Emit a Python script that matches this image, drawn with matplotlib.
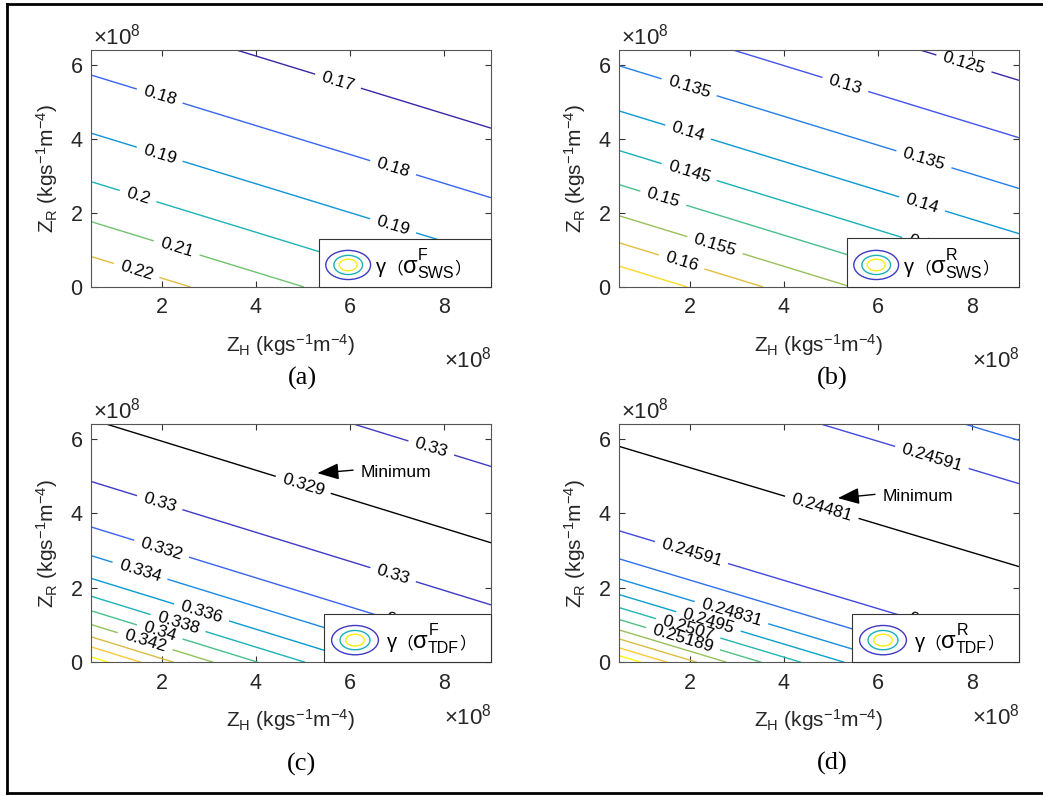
import numpy as np
import matplotlib
matplotlib.use('Agg')
import matplotlib.pyplot as plt
from matplotlib.colors import LinearSegmentedColormap, Normalize
from matplotlib.patches import Rectangle, Ellipse
from matplotlib.lines import Line2D

plt.rcParams['font.family'] = ['Liberation Sans', 'Noto Sans CJK SC', 'DejaVu Sans']
plt.rcParams['mathtext.fontset'] = 'custom'
plt.rcParams['mathtext.rm'] = 'Liberation Sans'
plt.rcParams['mathtext.it'] = 'Liberation Sans:italic'
plt.rcParams['mathtext.bf'] = 'Liberation Sans:bold'
plt.rcParams['axes.unicode_minus'] = False

# ---------------- data ----------------
zh_lim = [0.5, 9.0]      # Z_H axis, x1e8
zr_lim = [0.0, 6.4]      # Z_R axis, x1e8
zh_ticks = [2, 4, 6, 8]
zr_ticks = [0, 2, 4, 6]

# every contour is a straight line  Z_R + slope*Z_H = offset
# (a) gamma(sigma^F_SWS)
a_levels = [0.17, 0.18, 0.19, 0.20, 0.21, 0.22]
a_texts = ['0.17', '0.18', '0.19', '0.2', '0.21', '0.22']
a_offsets = [7.80, 5.92, 4.35, 3.04, 1.96, 1.02]
a_slope = 0.39
a_label_at = [(0, 5.75), (1, 1.96), (1, 6.92), (2, 1.96), (2, 6.92),
              (3, 1.50), (4, 2.32), (5, 1.47)]

# (b) gamma(sigma^R_SWS)
b_levels = [0.125, 0.13, 0.135, 0.14, 0.145, 0.15, 0.155, 0.16, 0.165]
b_texts = ['0.125', '0.13', '0.135', '0.14', '0.145', '0.15', '0.155', '0.16', '0.165']
b_offsets = [9.09, 7.54, 6.17, 4.95, 3.88, 2.96, 2.12, 1.39, 0.76]
b_slope = 0.39
b_label_at = [(0, 7.83), (1, 5.31), (2, 1.99), (2, 6.98), (3, 1.97), (3, 6.94),
              (4, 1.99), (4, 7.10), (5, 1.44), (6, 2.54), (7, 1.83)]

# (c) gamma(sigma^F_TDF)
c_levels = [0.33, 0.33, 0.332, 0.334, 0.336, 0.338, 0.340, 0.342, 0.344, 0.346, 0.348]
c_texts = ['0.33', '0.33', '0.332', '0.334', '0.336', '0.338', '0.34', '0.342', '0.344', '0.346', '0.348']
c_offsets = [8.77, 5.05, 3.83, 3.06, 2.45, 1.97, 1.58, 1.21, 0.88, 0.61, 0.34]
c_slope = 0.39
c_min = (0.329, '0.329', 6.72)
c_label_at = [(0, 7.73), (1, 1.96), (1, 6.92), (2, 2.00), (2, 7.20), (3, 1.54),
              (4, 2.85), (5, 2.35), (6, 1.96), (7, 1.65)]
c_min_label_x = 5.01
c_note = {'head': (5.31, 5.08), 'tail': (6.07, 5.16), 'text': (6.22, 5.10)}

# (d) gamma(sigma^R_TDF)
d_levels = [0.24711, 0.24591, 0.24591, 0.24711, 0.24831, 0.2495, 0.2507,
            0.25189, 0.25309, 0.25428, 0.25548, 0.25667]
d_texts = ['0.24711', '0.24591', '0.24591', '0.24711', '0.24831', '0.2495', '0.2507',
           '0.25189', '0.25309', '0.25428', '0.25548', '0.25667']
d_offsets = [9.38, 8.22, 3.72, 2.97, 2.43, 2.01, 1.66, 1.34, 1.06, 0.82, 0.58, 0.37]
d_slope = 0.38
d_min = (0.24481, '0.24481', 5.99)
d_label_at = [(1, 7.15), (2, 2.04), (2, 7.30), (4, 2.89), (5, 2.40), (6, 1.97), (7, 1.86)]
d_min_label_x = 4.81
d_note = {'head': (5.15, 4.41), 'tail': (5.94, 4.51), 'text': (6.11, 4.46)}

# ---------------- style ----------------
parula = LinearSegmentedColormap.from_list('parula', [
    (0.000, '#3e26a8'), (0.125, '#4358f0'), (0.250, '#1e87e5'),
    (0.375, '#069dcf'), (0.500, '#22b7b0'), (0.625, '#5ec578'),
    (0.750, '#c4bc45'), (0.875, '#fdbd3d'), (1.000, '#f9fb0e')])

W, H = 1043, 796
fig = plt.figure(figsize=(W / 100, H / 100), dpi=100)
fig.patch.set_facecolor('white')

TXT = '#262626'
FS_TICK = 15.5
FS_LAB = 15
FS_CL = 12.5
FS_LEG = 14.5


def axes_px(x0, x1, ytop, ybot):
    return fig.add_axes([x0 / W, 1 - ybot / H, (x1 - x0) / W, (ybot - ytop) / H])


def build_field(X, Y, slope, offsets, levels, extra=None):
    U = Y + slope * X
    pts = list(zip(offsets, levels))
    if extra is not None:
        pts.append((extra[2], extra[0]))
    pts.sort()
    u = np.array([p[0] for p in pts])
    v = np.array([p[1] for p in pts])
    s0 = (v[1] - v[0]) / (u[1] - u[0])
    s1 = (v[-1] - v[-2]) / (u[-1] - u[-2])
    u_ext = np.r_[u[0] - 20, u, u[-1] + 20]
    v_ext = np.r_[v[0] - 20 * s0, v, v[-1] + 20 * s1]
    return U, np.interp(U, u_ext, v_ext)


def panel(ax, levels, texts, offsets, slope, label_at, vmin, vmax, minline=None,
          min_label_x=None, note=None):
    x = np.linspace(zh_lim[0], zh_lim[1], 600)
    y = np.linspace(zr_lim[0], zr_lim[1], 450)
    X, Y = np.meshgrid(x, y)
    U, F = build_field(X, Y, slope, offsets, levels, minline)
    norm = Normalize(vmin, vmax)
    text_of = {round(l, 6): t for l, t in zip(levels, texts)}
    for lev in sorted(set(levels)):
        cs = ax.contour(X, Y, F, levels=[lev], colors=[parula(norm(lev))],
                        linewidths=1.0)
        pos = [(lx, offsets[i] - slope * lx) for i, lx in label_at
               if round(levels[i], 6) == round(lev, 6)]
        if pos:
            ax.clabel(cs, manual=pos, inline=True, inline_spacing=7, fontsize=FS_CL,
                      colors='k', fmt={cs.levels[0]: text_of[round(lev, 6)]})
    if minline is not None:
        csm = ax.contour(X, Y, U, levels=[minline[2]], colors='k', linewidths=1.0)
        ly = minline[2] - slope * min_label_x
        ax.clabel(csm, manual=[(min_label_x, ly)], inline=True, inline_spacing=7,
                  fontsize=FS_CL, colors='k', fmt={csm.levels[0]: minline[1]})
        ax.annotate('', xy=note['head'], xytext=note['tail'],
                    arrowprops=dict(arrowstyle='-|>,head_length=1.1,head_width=0.42',
                                    mutation_scale=12, color='k', lw=1.0,
                                    shrinkA=0, shrinkB=0))
        ax.text(note['text'][0], note['text'][1], 'Minimum', fontsize=12.5,
                va='center', ha='left', color='k')
    ax.set_xlim(zh_lim)
    ax.set_ylim(zr_lim)
    ax.set_xticks(zh_ticks)
    ax.set_yticks(zr_ticks)
    ax.tick_params(direction='in', top=True, right=True, length=4, width=0.8,
                   color='#333333', labelsize=FS_TICK, labelcolor=TXT)
    ax.tick_params(axis='x', pad=7.5)
    ax.tick_params(axis='y', pad=6)
    for sp in ax.spines.values():
        sp.set_color('#555555')
        sp.set_linewidth(0.8)


def legend_box(ax, x0, h, ell_dx, ell_w, text_dx, sup, sub):
    ax.add_patch(Rectangle((x0, 0), 1 - x0, h, transform=ax.transAxes,
                           facecolor='white', edgecolor='#333333', lw=0.8,
                           zorder=10, clip_on=False))
    cx, cy = x0 + ell_dx, 0.093
    for w, hh, c in [(ell_w, 0.123, parula(0.05)), (ell_w * 0.64, 0.081, parula(0.47)),
                     (ell_w * 0.40, 0.049, parula(0.97))]:
        ax.add_patch(Ellipse((cx, cy), w, hh, transform=ax.transAxes, fill=False,
                             edgecolor=c, lw=1.0, zorder=11))
    yb = 0.058
    kw = dict(va='baseline', ha='left', color='k', zorder=12)
    t1 = ax.text(x0 + text_dx, yb, 'γ', transform=ax.transAxes,
                 fontsize=FS_LEG, **kw)
    t2 = ax.annotate('（', xy=(1, yb), xycoords=(t1, ax.transAxes), fontsize=12,
                     family=['Noto Sans CJK SC'], **kw)
    t3 = ax.annotate('σ', xy=(1, yb), xycoords=(t2, ax.transAxes), fontsize=17,
                     **kw)
    ax.annotate(sup, xy=(1, yb), xycoords=(t3, ax.transAxes), xytext=(0.6, 9.5),
                textcoords='offset points', fontsize=11.5, **kw)
    t5 = ax.annotate(sub, xy=(1, yb), xycoords=(t3, ax.transAxes), xytext=(0.0, -3.6),
                     textcoords='offset points', fontsize=11.5, **kw)
    ax.annotate('）', xy=(1, yb), xycoords=(t5, ax.transAxes), fontsize=12,
                family=['Noto Sans CJK SC'], **kw)


def decorate(ax, letter, xl_y, off_y, letter_y, letter_x):
    ax.set_xlabel(r'$\mathrm{Z_H}$ (kgs$^{\mathrm{-1}}$m$^{\mathrm{-4}}$)',
                  fontsize=FS_LAB, color=TXT)
    ax.xaxis.set_label_coords(0.5, xl_y)
    ax.xaxis.label.set_va('center')
    ax.set_ylabel(r'$\mathrm{Z_R}$ (kgs$^{\mathrm{-1}}$m$^{\mathrm{-4}}$)',
                  fontsize=FS_LAB, color=TXT)
    ax.yaxis.set_label_coords(-0.11, 0.5)
    ax.yaxis.label.set_va('center')
    ax.text(0.004, 1.025, r'$\times\mathrm{10^{8}}$', transform=ax.transAxes,
            fontsize=16, va='baseline', ha='left', color=TXT)
    ax.text(0.882, off_y, r'$\times\mathrm{10^{8}}$', transform=ax.transAxes,
            fontsize=16, va='baseline', ha='left', color=TXT)
    ax.text(letter_x, letter_y, letter, transform=ax.transAxes, fontsize=19,
            family='Liberation Serif', va='center', ha='center', color='k')


axa = axes_px(91, 491, 50, 287)
axb = axes_px(619, 1019, 50, 287)
axc = axes_px(91, 491, 424, 662.3)
axd = axes_px(619, 1019, 424, 662.3)

panel(axa, a_levels, a_texts, a_offsets, a_slope, a_label_at, 0.17, 0.232)
panel(axb, b_levels, b_texts, b_offsets, b_slope, b_label_at, 0.125, 0.168)
panel(axc, c_levels, c_texts, c_offsets, c_slope, c_label_at, 0.329, 0.348,
      minline=c_min, min_label_x=c_min_label_x, note=c_note)
panel(axd, d_levels, d_texts, d_offsets, d_slope, d_label_at, 0.24481, 0.25667,
      minline=d_min, min_label_x=d_min_label_x, note=d_note)

legend_box(axa, 0.570, 0.2025, 0.073, 0.112, 0.142, 'F', 'SWS')
legend_box(axb, 0.570, 0.208, 0.073, 0.112, 0.142, 'R', 'SWS')
legend_box(axc, 0.583, 0.2025, 0.077, 0.117, 0.156, 'F', 'TDF')
legend_box(axd, 0.583, 0.2025, 0.077, 0.117, 0.156, 'R', 'TDF')

decorate(axa, '(a)', -0.245, -0.338, -0.384, 0.5275)
decorate(axb, '(b)', -0.245, -0.338, -0.384, 0.532)
decorate(axc, '(c)', -0.242, -0.263, -0.430, 0.5275)
decorate(axd, '(d)', -0.242, -0.263, -0.423, 0.532)

# outer frame (left, top, bottom edges visible)
for (x0, y0, x1, y1) in [(6.5, 4, 6.5, 792.5), (6.5, 4, W + 5, 4), (6.5, 792.5, W + 5, 792.5)]:
    fig.add_artist(Line2D([x0 / W, x1 / W], [1 - y0 / H, 1 - y1 / H], color='k',
                          lw=2.0, transform=fig.transFigure))

fig.savefig('out.png', dpi=100, facecolor='white')
